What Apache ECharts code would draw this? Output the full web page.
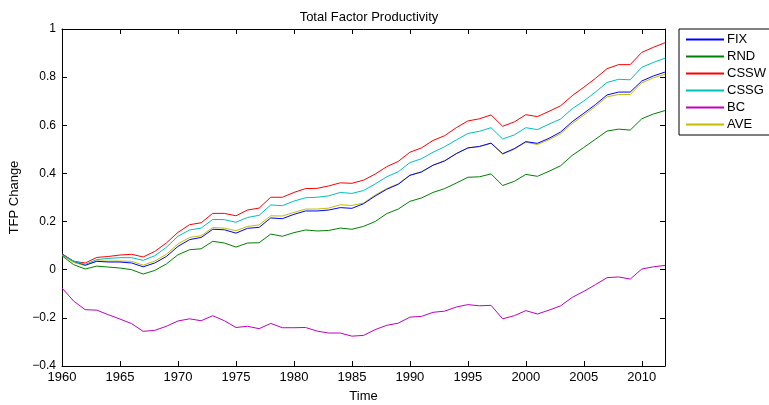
<!DOCTYPE html>
<html>
<head>
<meta charset="utf-8">
<script src="https://cdn.jsdelivr.net/npm/echarts@6/dist/echarts.min.js"></script>
<style>
  html, body { margin: 0; padding: 0; background: #fff; }
  #chart { width: 769px; height: 405px; }
</style>
</head>
<body>
<div id="chart"></div>
<script>
// years 1960..2012
const years = [];
for (let y = 1960; y <= 2012; y++) years.push(y);

const fix = [0.065, 0.035, 0.019, 0.035, 0.032, 0.032, 0.028, 0.012, 0.028, 0.055,
    0.097, 0.125, 0.134, 0.168, 0.166, 0.152, 0.172, 0.176, 0.215, 0.212,
    0.230, 0.244, 0.244, 0.248, 0.258, 0.255, 0.274, 0.306, 0.334, 0.355,
    0.392, 0.406, 0.434, 0.452, 0.482, 0.506, 0.512, 0.526, 0.482, 0.503,
    0.532, 0.525, 0.546, 0.572, 0.615, 0.650, 0.686, 0.726, 0.738, 0.738,
    0.784, 0.805, 0.821];
const rnd = [0.058, 0.021, 0.003, 0.015, 0.011, 0.007, 0.000, -0.018, -0.003, 0.024,
    0.062, 0.083, 0.087, 0.118, 0.111, 0.094, 0.111, 0.112, 0.148, 0.139,
    0.154, 0.165, 0.161, 0.163, 0.173, 0.168, 0.180, 0.200, 0.233, 0.252,
    0.284, 0.298, 0.321, 0.337, 0.360, 0.384, 0.386, 0.398, 0.350, 0.367,
    0.396, 0.388, 0.409, 0.432, 0.475, 0.508, 0.542, 0.576, 0.584, 0.580,
    0.627, 0.647, 0.661];
const cssw = [0.066, 0.035, 0.028, 0.051, 0.055, 0.061, 0.064, 0.053, 0.076, 0.111,
    0.155, 0.187, 0.195, 0.234, 0.234, 0.224, 0.248, 0.256, 0.301, 0.301,
    0.321, 0.337, 0.338, 0.348, 0.361, 0.359, 0.372, 0.397, 0.428, 0.450,
    0.488, 0.506, 0.537, 0.557, 0.590, 0.618, 0.627, 0.643, 0.596, 0.614,
    0.644, 0.636, 0.658, 0.681, 0.723, 0.758, 0.795, 0.835, 0.852, 0.852,
    0.903, 0.924, 0.943];
const cssg = [0.062, 0.036, 0.022, 0.042, 0.047, 0.050, 0.050, 0.039, 0.058, 0.093,
    0.139, 0.165, 0.173, 0.209, 0.208, 0.197, 0.217, 0.226, 0.269, 0.266,
    0.285, 0.299, 0.301, 0.307, 0.321, 0.317, 0.329, 0.356, 0.386, 0.407,
    0.445, 0.461, 0.488, 0.511, 0.539, 0.566, 0.575, 0.590, 0.543, 0.560,
    0.590, 0.582, 0.605, 0.626, 0.669, 0.701, 0.738, 0.778, 0.791, 0.789,
    0.841, 0.861, 0.879];
const bc = [-0.076, -0.130, -0.166, -0.168, -0.187, -0.205, -0.224, -0.256, -0.252, -0.235,
    -0.213, -0.204, -0.212, -0.191, -0.212, -0.240, -0.235, -0.245, -0.223, -0.241,
    -0.241, -0.240, -0.255, -0.263, -0.263, -0.276, -0.273, -0.249, -0.231, -0.222,
    -0.197, -0.194, -0.177, -0.172, -0.155, -0.145, -0.150, -0.148, -0.204, -0.191,
    -0.170, -0.184, -0.168, -0.150, -0.115, -0.090, -0.062, -0.033, -0.030, -0.039,
    0.003, 0.012, 0.018];
const ave = [0.062, 0.030, 0.017, 0.036, 0.036, 0.036, 0.035, 0.019, 0.036, 0.064,
    0.107, 0.134, 0.141, 0.175, 0.173, 0.162, 0.180, 0.186, 0.224, 0.223,
    0.238, 0.252, 0.252, 0.256, 0.270, 0.267, 0.277, 0.310, 0.337, 0.357,
    0.393, 0.407, 0.435, 0.453, 0.483, 0.506, 0.512, 0.525, 0.480, 0.500,
    0.530, 0.520, 0.540, 0.565, 0.607, 0.642, 0.678, 0.718, 0.728, 0.728,
    0.776, 0.797, 0.812];

const names = ['FIX', 'RND', 'CSSW', 'CSSG', 'BC', 'AVE'];
const values = [fix, rnd, cssw, cssg, bc, ave];
const colors = ['#0000ff', '#008000', '#ff0000', '#00bfbf', '#bf00bf', '#bfbf00'];

const chart = echarts.init(document.getElementById('chart'));
const font = 'Liberation Sans, Arial, sans-serif';

function getChartOptions() {
    const axisCommon = {
        axisLine: { show: true, onZero: false, lineStyle: { color: '#000', width: 1 } },
        axisTick: { show: true, inside: true, length: 5, lineStyle: { color: '#000' } },
        splitLine: { show: false }
    };
    return {
        animation: false,
        backgroundColor: '#fff',
        textStyle: { fontFamily: font },
        title: {
            text: 'Total Factor Productivity',
            left: 364,
            top: 6,
            textAlign: 'center',
            textStyle: { fontSize: 13, fontWeight: 'normal', color: '#000', fontFamily: font }
        },
        legend: {
            data: names.map((n, i) => ({ name: n, itemStyle: { color: colors[i] } })),
            orient: 'vertical',
            left: 679,
            top: 29,
            icon: 'rect',
            itemWidth: 38,
            itemHeight: 2,
            itemGap: 4,
            padding: [4, 40, 4, 7],
            borderColor: '#000',
            borderWidth: 1,
            backgroundColor: '#fff',
            textStyle: { fontSize: 13, color: '#000', fontFamily: font, padding: [0, 0, 0, -2] }
        },
        grid: { left: 62, right: 104, top: 29, bottom: 39, outerBoundsMode: 'none', containLabel: false },
        xAxis: [
            Object.assign({}, axisCommon, {
                type: 'value', min: 1960, max: 2012, interval: 5,
                name: 'Time', nameLocation: 'middle', nameGap: 24,
                nameTextStyle: { fontSize: 13, color: '#000', fontFamily: font },
                axisLabel: { fontSize: 13, color: '#000', margin: 5, showMaxLabel: false,
                    fontFamily: font, formatter: v => String(v) }
            }),
            Object.assign({}, axisCommon, {
                type: 'value', min: 1960, max: 2012, interval: 5, position: 'top',
                axisLabel: { show: false }
            })
        ],
        yAxis: [
            Object.assign({}, axisCommon, {
                type: 'value', min: -0.4, max: 1, interval: 0.2,
                name: 'TFP Change', nameLocation: 'middle', nameGap: 32,
                nameTextStyle: { fontSize: 13, color: '#000', fontFamily: font },
                axisLabel: { fontSize: 12, color: '#000', margin: 6, fontFamily: font,
                    formatter: v => String(Math.round(v * 10) / 10).replace('-', '\u2212') }
            }),
            Object.assign({}, axisCommon, {
                type: 'value', min: -0.4, max: 1, interval: 0.2, position: 'right',
                axisLabel: { show: false }
            })
        ],
        series: names.map((n, i) => ({
            name: n,
            type: 'line',
            data: years.map((y, j) => [y, values[i][j]]),
            symbol: 'none',
            color: colors[i],
            lineStyle: { width: 1, color: colors[i] },
            z: i === 5 ? 1 : 2
        }))
    };
}

chart.setOption(getChartOptions());
</script>
</body>
</html>
